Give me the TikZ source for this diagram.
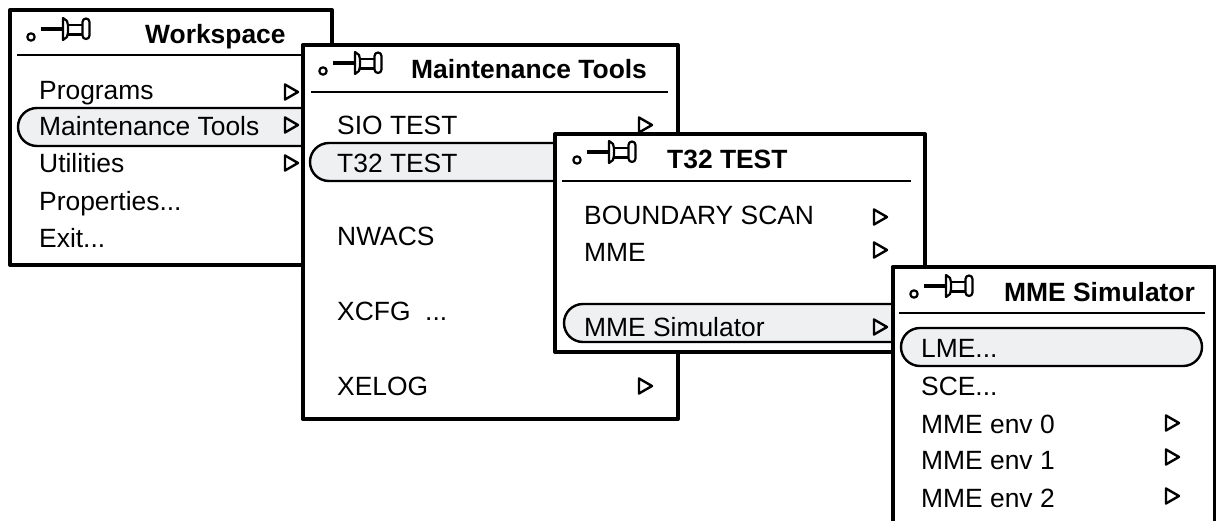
\documentclass[tikz,border=0pt]{standalone}
\usepackage{fontspec}
\setmainfont{Liberation Sans}
\newcommand{\pinicon}[2]{%
  \begin{scope}[shift={(#1,#2)},line width=2.2bp,line join=round]
    \draw (0,0) circle (3.7);
    \draw[line width=3.2bp] (10,-8) -- (31,-8);
    \draw (32,-19) -- (32,3) -- (36,0) .. controls (37.5,-5) and (37.5,-12) .. (36,-16) -- cycle;
    \draw (37,-12) -- (52,-12) (37,-2.5) -- (52,-2.5);
    \draw[rounded corners=3.5] (51.5,-18.5) rectangle (58.5,2);
  \end{scope}}
\newcommand{\tri}[2]{\draw[triline] (#1,#2-7.5) -- (#1+13,#2) -- (#1,#2+7.5) -- cycle;}
\tikzset{
  x=1bp,y=-1bp,
  win/.style={draw=black,fill=white,line width=4bp,line join=round},
  rule/.style={line width=2.2bp},
  pill/.style={draw=black,fill=pillgray,line width=2.4bp},
  triline/.style={line width=2.4bp,line join=round},
  item/.style={anchor=base west,inner sep=0pt,font=\fontsize{26.4bp}{30bp}\selectfont},
  head/.style={anchor=base west,inner sep=0pt,font=\fontsize{26.4bp}{30bp}\selectfont\bfseries},
}
\definecolor{pillgray}{HTML}{EFF0F2}
\begin{document}
\begin{tikzpicture}
\useasboundingbox (0,0) rectangle (1216,521);
\clip (0,0) rectangle (1216,521);
% Workspace
\draw[win] (10,10) rectangle (332,265);
\draw[rule] (17,55) -- (324,55);
\pinicon{31}{37}
\node[head] (wt) at (145,44) {Workspace};
\draw[pill,rounded corners=19] (340,108) -- (18,108) -- (18,146) -- (340,146);
\node[item] (w1) at (39,100) {Programs};
\node[item] (w2) at (39,136) {Maintenance Tools};
\node[item] (w3) at (39,173) {Utilities};
\node[item] (w4) at (39,211) {Properties...};
\node[item] (w5) at (39,248) {Exit...};
\tri{285}{92}\tri{285}{125}\tri{285}{163}
% Maintenance Tools
\draw[win] (302.5,45) rectangle (678,419);
\draw[rule] (311,92) -- (668,92);
\pinicon{323}{71}
\node[head] (mt) at (411,79) {Maintenance Tools};
\draw[pill,rounded corners=19] (600,143) -- (310,143) -- (310,181) -- (600,181);
\node[item] (m1) at (337,135) {SIO TEST};
\node[item] (m2) at (337,173) {T32 TEST};
\node[item] (m3) at (337,246) {NWACS};
\node[item] (m4) at (337,321) {XCFG\ \ ...};
\node[item] (m5) at (337,395) {XELOG};
\tri{639}{125}\tri{639}{386}
% T32 TEST
\draw[win] (555,134) rectangle (925,352);
\draw[rule] (562,181) -- (911,181);
\pinicon{577}{160}
\node[head] (tt) at (667,169) {T32 TEST};
\draw[pill,rounded corners=19] (950,304) -- (564,304) -- (564,342) -- (950,342);
\node[item] (t1) at (584,225) {BOUNDARY SCAN};
\node[item] (t2) at (584,262) {MME};
\node[item] (t3) at (584,337) {MME Simulator};
\tri{874}{217}\tri{874}{250}\tri{874}{327}
% MME Simulator
\fill[white] (892.5,267) rectangle (1214.5,525);
\draw[win,fill=none] (892.5,525) -- (892.5,267) -- (1214.5,267) -- (1214.5,525);
\draw[rule] (899,313) -- (1205,313);
\pinicon{914}{294}
\node[head] (st) at (1004,302) {MME Simulator};
\draw[pill,rounded corners=19] (901,328) rectangle (1202,366);
\node[item] (s1) at (921,358) {LME...};
\node[item] (s2) at (921,395) {SCE...};
\node[item] (s3) at (921,433) {MME env 0};
\node[item] (s4) at (921,469) {MME env 1};
\node[item] (s5) at (921,507) {MME env 2};
\tri{1166}{423}\tri{1166}{457}\tri{1166}{496}
\end{tikzpicture}
\end{document}
